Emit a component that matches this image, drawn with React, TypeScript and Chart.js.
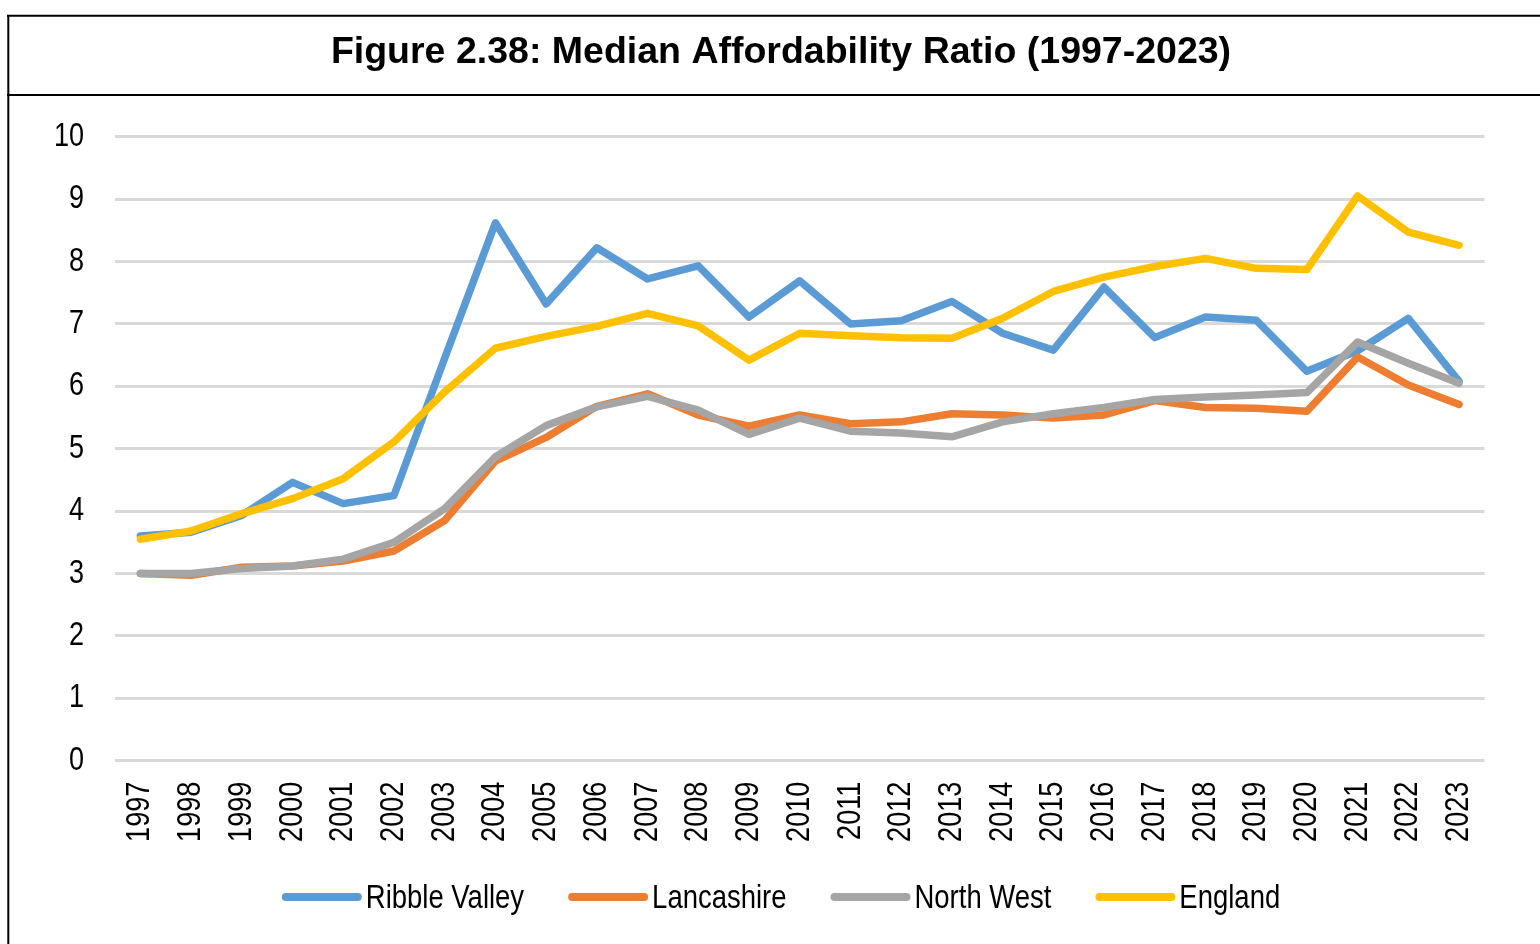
import React, { useEffect, useRef } from "react";
import { Chart, registerables } from "chart.js";

Chart.register(...registerables);

const years = [
  "1997", "1998", "1999", "2000", "2001", "2002", "2003", "2004", "2005",
  "2006", "2007", "2008", "2009", "2010", "2011", "2012", "2013", "2014",
  "2015", "2016", "2017", "2018", "2019", "2020", "2021", "2022", "2023",
];

const ribbleValley = [
  3.6, 3.66, 3.93, 4.46, 4.12, 4.25, 6.45, 8.62, 7.32, 8.22, 7.72, 7.93, 7.11,
  7.69, 7.0, 7.05, 7.36, 6.85, 6.58, 7.59, 6.78, 7.11, 7.06, 6.24, 6.57, 7.09, 6.08,
];
const lancashire = [
  3.0, 2.97, 3.1, 3.12, 3.2, 3.36, 3.85, 4.8, 5.18, 5.68, 5.88, 5.54, 5.36,
  5.54, 5.4, 5.43, 5.56, 5.54, 5.49, 5.54, 5.77, 5.66, 5.65, 5.6, 6.47, 6.02, 5.71,
];
const northWest = [
  3.0, 3.0, 3.08, 3.12, 3.23, 3.5, 4.04, 4.87, 5.37, 5.67, 5.84, 5.62, 5.23,
  5.49, 5.28, 5.25, 5.19, 5.43, 5.56, 5.66, 5.79, 5.83, 5.86, 5.9, 6.71, 6.37, 6.05,
];
const england = [
  3.55, 3.68, 3.96, 4.2, 4.52, 5.11, 5.91, 6.61, 6.8, 6.96, 7.17, 6.97, 6.42,
  6.85, 6.81, 6.78, 6.77, 7.09, 7.52, 7.75, 7.92, 8.05, 7.89, 7.87, 9.05, 8.47, 8.26,
];

const seriesNames = ["Ribble Valley", "Lancashire", "North West", "England"];
const seriesColors = ["#5B9BD5", "#ED7D31", "#A5A5A5", "#FFC000"];
const seriesValues = [ribbleValley, lancashire, northWest, england];

const yMin = 0;
const yMax = 10;
const yStep = 1;

const titleText = "Figure 2.38: Median Affordability Ratio (1997-2023)";

const SANS = "'Liberation Sans', Arial, sans-serif";
// Arial Narrow is not installed: emulate it with a horizontally condensed Arial-metric font
const NARROW_SCALE = 0.82;

function drawNarrowText(
  ctx: CanvasRenderingContext2D,
  text: string,
  x: number,
  y: number,
  align: CanvasTextAlign,
  baseline: CanvasTextBaseline,
  rotation = 0
) {
  ctx.save();
  ctx.translate(x, y);
  if (rotation) ctx.rotate(rotation);
  ctx.scale(NARROW_SCALE, 1);
  ctx.textAlign = align;
  ctx.textBaseline = baseline;
  ctx.fillText(text, 0, 0);
  ctx.restore();
}

const framePlugin = {
  id: "frameAndTitle",
  beforeDraw(chart: any) {
    const ctx = chart.ctx;
    ctx.save();
    ctx.fillStyle = "#ffffff";
    ctx.fillRect(0, 0, chart.width, chart.height);
    ctx.strokeStyle = "#000000";
    ctx.lineWidth = 2;
    ctx.beginPath();
    ctx.moveTo(7, 15.7);
    ctx.lineTo(chart.width, 15.7);
    ctx.moveTo(7, 95);
    ctx.lineTo(chart.width, 95);
    ctx.moveTo(8.3, 14.7);
    ctx.lineTo(8.3, chart.height);
    ctx.stroke();
    ctx.fillStyle = "#000000";
    ctx.font = `bold 37.5px ${SANS}`;
    ctx.textAlign = "center";
    ctx.textBaseline = "alphabetic";
    ctx.fillText(titleText, 781, 63);
    ctx.restore();
  },
};

const tickLabelPlugin = {
  id: "narrowTickLabels",
  afterDraw(chart: any) {
    const ctx = chart.ctx;
    const xs = chart.scales.x;
    const ys = chart.scales.y;
    const area = chart.chartArea;
    ctx.save();
    ctx.fillStyle = "#000000";
    ctx.font = `33px ${SANS}`;
    ys.ticks.forEach((t: any, i: number) => {
      const py = ys.getPixelForTick(i);
      drawNarrowText(ctx, String(t.label), area.left - 31, py, "right", "middle");
    });
    xs.ticks.forEach((t: any, i: number) => {
      const px = xs.getPixelForTick(i);
      const label = xs.getLabelForValue(t.value);
      drawNarrowText(ctx, String(label), px, area.bottom + 21, "right", "middle", -Math.PI / 2);
    });
    ctx.restore();
  },
};

const legendPlugin = {
  id: "bottomLegend",
  afterDraw(chart: any) {
    const ctx = chart.ctx;
    const datasets = chart.data.datasets;
    const symbolW = 80;
    const gapText = 4;
    const gapItem = 44;
    const yLine = 897;
    const yText = 908;
    ctx.save();
    ctx.font = `33.5px ${SANS}`;
    const widths = datasets.map((d: any) => ctx.measureText(d.label).width * NARROW_SCALE);
    let total = 0;
    widths.forEach((w: number, i: number) => {
      total += symbolW + gapText + w + (i < widths.length - 1 ? gapItem : 0);
    });
    let x = 781 - total / 2;
    datasets.forEach((d: any, i: number) => {
      ctx.strokeStyle = d.borderColor;
      ctx.lineWidth = 8;
      ctx.lineCap = "round";
      ctx.beginPath();
      ctx.moveTo(x + 4, yLine);
      ctx.lineTo(x + symbolW - 4, yLine);
      ctx.stroke();
      ctx.fillStyle = "#000000";
      drawNarrowText(ctx, d.label, x + symbolW + gapText, yText, "left", "alphabetic");
      x += symbolW + gapText + widths[i] + gapItem;
    });
    ctx.restore();
  },
};

export default function App() {
  const canvasRef = useRef<HTMLCanvasElement | null>(null);

  useEffect(() => {
    if (!canvasRef.current) return;
    const datasets = seriesNames.map((name, i) => ({
      label: name,
      data: seriesValues[i],
      borderColor: seriesColors[i],
      backgroundColor: seriesColors[i],
      borderWidth: 7.5,
      borderCapStyle: "round" as const,
      borderJoinStyle: "round" as const,
      pointRadius: 0,
      pointHoverRadius: 0,
      tension: 0,
      fill: false,
      order: seriesNames.length - i,
    }));

    const chart = new Chart(canvasRef.current, {
      type: "line",
      data: { labels: years, datasets },
      options: {
        animation: false,
        responsive: false,
        devicePixelRatio: 1,
        layout: {
          padding: { top: 136.7, left: 0, right: 55.6, bottom: 73.3 },
        },
        plugins: {
          legend: { display: false },
          title: { display: false },
          tooltip: { enabled: false },
        },
        scales: {
          x: {
            type: "category",
            offset: true,
            grid: { display: false, drawTicks: false },
            border: { display: false },
            ticks: { display: false, autoSkip: false },
            afterFit: (s: any) => {
              s.height = 110;
            },
          },
          y: {
            min: yMin,
            max: yMax,
            grid: { color: "#D9D9D9", lineWidth: 3, drawTicks: false },
            border: { display: false },
            ticks: { display: false, stepSize: yStep },
            afterFit: (s: any) => {
              s.width = 115;
            },
          },
        },
      },
      plugins: [framePlugin, tickLabelPlugin, legendPlugin],
    });
    return () => chart.destroy();
  }, []);

  return (
    <canvas
      ref={canvasRef}
      width={1540}
      height={944}
      style={{ position: "fixed", left: 0, top: 0, width: 1540, height: 944 }}
    />
  );
}
